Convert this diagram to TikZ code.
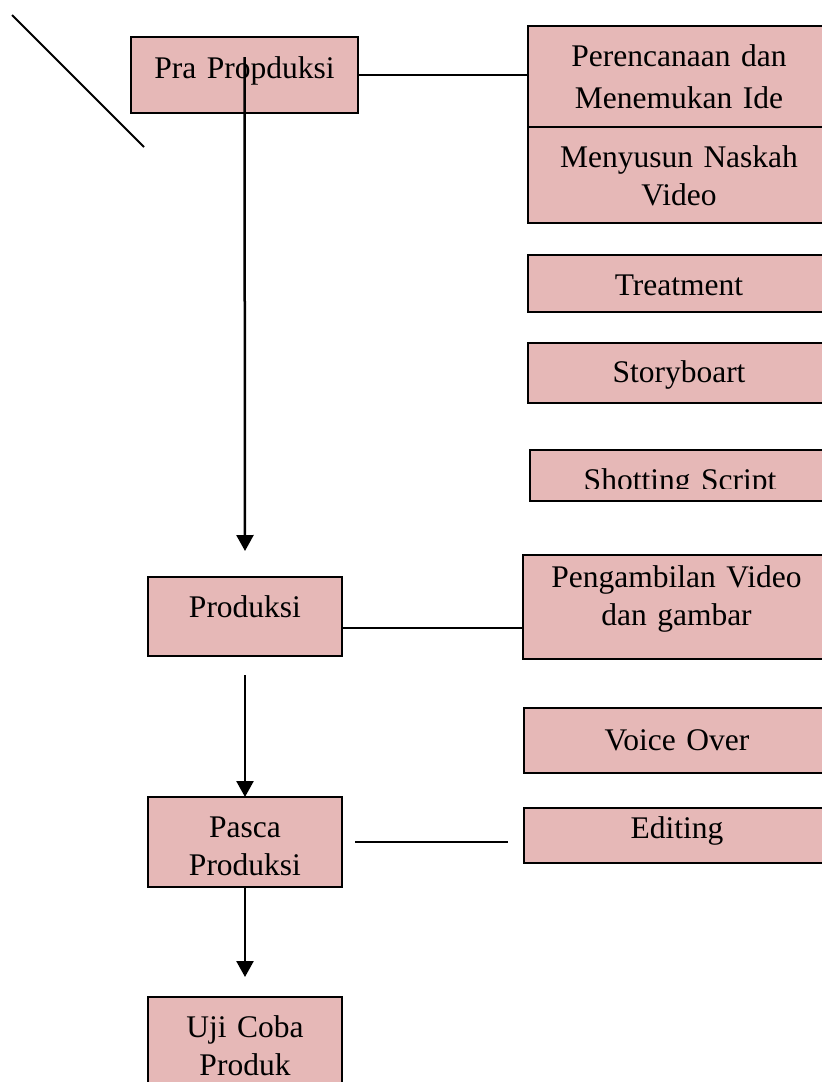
\documentclass[tikz,border=0pt]{standalone}
\usepackage{fontspec}
\setmainfont{Liberation Serif}
\usetikzlibrary{arrows.meta, positioning}
\definecolor{BoxPink}{RGB}{230, 184, 183}

\begin{document}
\begin{tikzpicture}[
    x=1pt, y=-1pt,
    % --- Styles ---
    % Style for the pink boxes (first baseline sits a fixed distance below the top)
    box-style/.style={
        draw, fill=BoxPink, line width=2pt,
        rectangle, anchor=north west,
        inner sep=0pt, outer sep=0pt, align=center,
        font=\fontsize{31.5}{38}\selectfont,
        text height=40pt
    },
    % Style for the plain connecting lines
    line-style/.style={
        line width=1.8pt,
        draw=black
    },
    % Style for the downward arrows between the stages
    arrow-style/.style={
        -{Triangle[length=16pt, width=17pt]},
        line width=2.5pt,
        draw=black
    },
    % Style for hiding the clipped bottom of a text
    mask-style/.style={
        fill=BoxPink
    }
]

\useasboundingbox (0,0) rectangle (822,1082);
\clip (0,0) rectangle (822,1082);

% --- Stage 1: Pra Produksi ---
\node[box-style, text width=227pt, text height=41pt, text depth=35pt] (pra) at (131,37) {Pra Propduksi};

\node[box-style, text width=302pt, text depth=61pt, font=\fontsize{31.5}{42}\selectfont] (plan) at (528,26) {Perencanaan dan\\Menemukan Ide};
\node[box-style, text width=302pt, text depth=56pt] (naskah) at (528,127) {Menyusun Naskah\\Video};
\node[box-style, text width=302pt, text depth=17pt] (treat) at (528,255) {Treatment};
\node[box-style, text width=302pt, text height=39pt, text depth=21pt] (story) at (528,343) {Storyboart};
\node[box-style, text width=300pt, text depth=11pt] (shot) at (530,450) {Shotting Script};
\fill[mask-style] ([shift={(1pt,1pt)}]shot.south west) rectangle ([shift={(-1pt,12pt)}]shot.south east);

% --- Stage 2: Produksi ---
\node[box-style, text width=194pt, text depth=39pt] (prod) at (148,577) {Produksi};

\node[box-style, text width=307pt, text height=32pt, text depth=72pt] (ambil) at (523,555) {Pengambilan Video\\dan gambar};
\node[box-style, text width=306pt, text height=42pt, text depth=23pt] (voice) at (524,708) {Voice Over};

% --- Stage 3: Pasca Produksi ---
\node[box-style, text width=194pt, text depth=50pt] (pasca) at (148,797) {Pasca\\Produksi};
\fill[mask-style] ([shift={(1pt,1pt)}]pasca.south west) rectangle ([shift={(-1pt,10pt)}]pasca.south east);

\node[box-style, text width=306pt, text height=30pt, text depth=25pt] (edit) at (524,808) {Editing};

% --- Stage 4: Uji Coba Produk ---
\node[box-style, text width=194pt, text depth=55pt] (uji) at (148,997) {Uji Coba\\Produk};

% --- Connecting lines ---
\draw[line-style] (pra.east) -- (pra.east -| plan.west);
\draw[line-style] ([yshift=-11.5pt]prod.east) -- ([yshift=-11.5pt]prod.east -| ambil.west);
\draw[line-style] ([xshift=13pt]pasca.east) -- ([xshift=-16pt]pasca.east -| edit.west);

% --- Main arrows ---
\draw[arrow-style] ([yshift=-20pt]pra.north) -- ([yshift=26pt]prod.north);
\draw[arrow-style] ([yshift=-19pt]prod.south) -- (pasca.north);
\draw[arrow-style] (pasca.south) -- ([yshift=20pt]uji.north);

% --- Stray diagonal stroke ---
\coordinate (diag-top) at (12,15);
\coordinate (diag-end) at (144,147);
\draw[line-style] (diag-top) -- (diag-end);

\end{tikzpicture}
\end{document}
